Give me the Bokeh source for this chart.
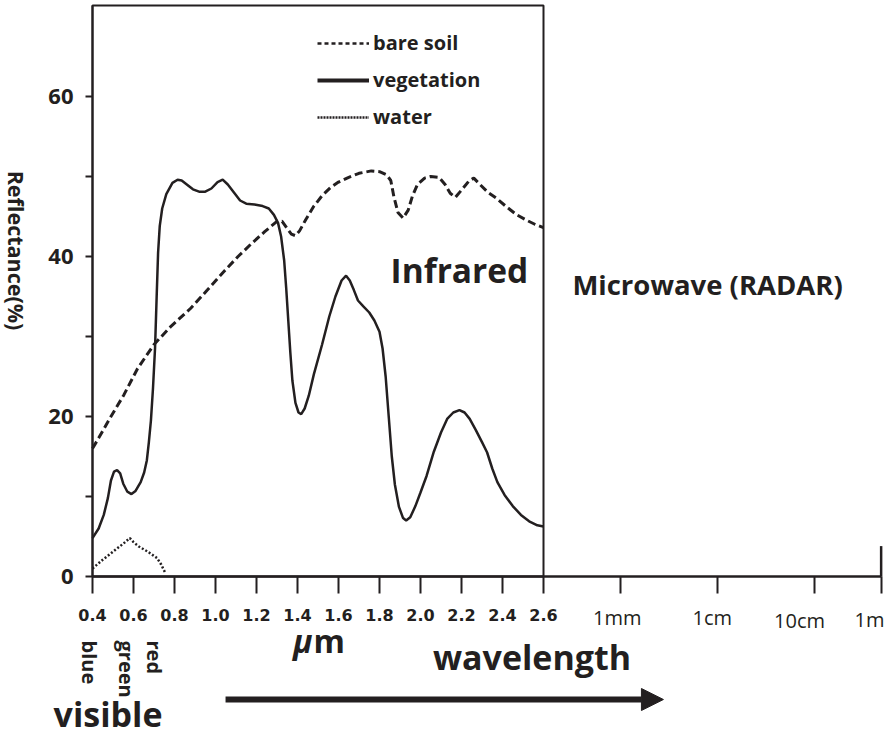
import math
from bokeh.plotting import figure
from bokeh.models import (FixedTicker, Range1d, Label, Arrow, NormalHead,
                          BoxAnnotation, Legend, LegendItem)
from bokeh.embed import file_html
from bokeh.resources import INLINE

# ---------------- data ----------------
veg_wl = [0.40, 0.43, 0.455, 0.475, 0.49, 0.505, 0.52, 0.535, 0.55, 0.57, 0.59, 0.61,
          0.635, 0.652, 0.665, 0.675, 0.685, 0.695, 0.705, 0.713, 0.72, 0.728, 0.74,
          0.76, 0.79, 0.815, 0.835, 0.86, 0.89, 0.92, 0.95, 0.98, 1.01, 1.035, 1.06,
          1.09, 1.12, 1.15, 1.19, 1.23, 1.26, 1.285, 1.305, 1.32, 1.335, 1.345, 1.355,
          1.365, 1.375, 1.39, 1.405, 1.418, 1.435, 1.455, 1.48, 1.52, 1.555, 1.585,
          1.615, 1.637, 1.655, 1.675, 1.695, 1.72, 1.75, 1.775, 1.80, 1.815, 1.83,
          1.845, 1.86, 1.875, 1.895, 1.915, 1.93, 1.95, 1.975, 2.0, 2.03, 2.065, 2.10,
          2.13, 2.16, 2.19, 2.215, 2.24, 2.27, 2.30, 2.325, 2.35, 2.375, 2.41, 2.45,
          2.49, 2.53, 2.57, 2.60]
veg_refl = [4.8, 6.0, 7.7, 9.8, 12.0, 13.1, 13.3, 12.9, 11.6, 10.6, 10.3, 10.7,
            11.8, 13.0, 14.5, 16.8, 19.5, 23.5, 28.5, 35.0, 40.5, 43.8, 46.0,
            47.8, 49.2, 49.6, 49.5, 49.0, 48.4, 48.1, 48.1, 48.5, 49.3, 49.6, 49.0,
            48.0, 47.0, 46.6, 46.5, 46.3, 46.0, 45.2, 44.2, 42.5, 39.5, 36.0, 32.0,
            28.0, 24.5, 21.7, 20.5, 20.3, 21.0, 22.6, 25.3, 29.0, 32.5, 35.0,
            37.0, 37.6, 37.0, 35.8, 34.5, 33.8, 33.0, 32.0, 30.6, 28.5, 25.0,
            20.0, 15.0, 11.5, 8.7, 7.3, 7.0, 7.4, 8.8, 10.5, 12.6, 15.6, 18.0,
            19.7, 20.5, 20.8, 20.5, 19.7, 18.3, 16.8, 15.5, 13.5, 11.8, 10.2, 8.8,
            7.7, 6.9, 6.4, 6.25]

soil_wl = [0.40, 0.43, 0.49, 0.553, 0.62, 0.70, 0.78, 0.878, 0.96, 1.04, 1.11, 1.171,
           1.24, 1.30, 1.325, 1.35, 1.37, 1.39, 1.41, 1.44, 1.48, 1.52, 1.56, 1.60,
           1.65, 1.70, 1.76, 1.80, 1.835, 1.855, 1.87, 1.89, 1.915, 1.94, 1.96, 1.985,
           2.02, 2.05, 2.09, 2.12, 2.145, 2.17, 2.20, 2.235, 2.26, 2.29, 2.33, 2.37,
           2.42, 2.47, 2.52, 2.56, 2.60]
soil_refl = [16.0, 17.3, 20.0, 22.7, 26.0, 29.0, 31.2, 33.5, 35.8, 38.1, 40.0, 41.5,
             43.1, 44.4, 44.4, 43.5, 42.8, 42.6, 43.2, 44.6, 46.3, 47.6, 48.6, 49.3,
             49.9, 50.4, 50.7, 50.6, 50.2, 49.5, 47.5, 45.5, 44.8, 45.8, 47.5, 49.0,
             49.8, 50.0, 49.9, 49.0, 47.9, 47.4, 48.3, 49.4, 49.8, 49.0, 48.0, 47.3,
             46.2, 45.2, 44.5, 44.0, 43.6]

water_wl = [0.40, 0.45, 0.50, 0.55, 0.582, 0.60, 0.626, 0.67, 0.715, 0.735, 0.756]
water_refl = [1.0, 2.1, 3.1, 4.1, 4.8, 4.3, 3.75, 3.1, 2.3, 1.5, 0.4]

series_names = ["bare soil", "vegetation", "water"]

x_ticks = [0.4, 0.6, 0.8, 1.0, 1.2, 1.4, 1.6, 1.8, 2.0, 2.2, 2.4, 2.6]
x_tick_labels = ["0.4", "0.6", "0.8", "1.0", "1.2", "1.4", "1.6", "1.8", "2.0",
                 "2.2", "2.4", "2.6"]
long_ticks = [2.976, 3.449, 3.922, 4.247]
long_tick_labels = ["1mm", "1cm", "10cm", "1m"]
y_ticks = [0, 10, 20, 30, 40, 50, 60]
y_tick_labels = ["0", "", "20", "", "40", "", "60"]
y_top = 71.375

INK = "#231f20"
FONT = "Open Sans"

# the frame fills the whole canvas; the axes are pinned at x=0.4 and y=0
p = figure(width=889, height=736,
           x_range=Range1d(-0.04878, 4.28780), y_range=Range1d(-20, 72),
           output_backend="svg", toolbar_location=None,
           min_border=0)
p.xgrid.visible = False
p.ygrid.visible = False
p.outline_line_color = None
p.background_fill_color = "white"
p.border_fill_color = "white"

# ---------------- axes ----------------
xa = p.xaxis[0]
xa.fixed_location = 0
xa.ticker = FixedTicker(ticks=x_ticks + long_ticks)
ov = {t: l for t, l in zip(x_ticks, x_tick_labels)}
ov.update({t: "" for t in long_ticks})
xa.major_label_overrides = ov
xa.bounds = (x_ticks[0], long_ticks[-1])
xa.minor_tick_line_color = None
xa.major_tick_out = 17
xa.major_tick_in = 0
xa.axis_line_width = 2.5
xa.axis_line_color = INK
xa.major_tick_line_width = 2
xa.major_tick_line_color = INK
xa.major_label_text_font = "DejaVu Sans"
xa.major_label_text_font_style = "bold"
xa.major_label_text_font_size = "16px"
xa.major_label_text_color = INK
xa.major_label_standoff = 15

ya = p.yaxis[0]
ya.fixed_location = x_ticks[0]
ya.ticker = FixedTicker(ticks=y_ticks)
ya.major_label_overrides = {t: l for t, l in zip(y_ticks, y_tick_labels)}
ya.bounds = (0, y_top)
ya.minor_tick_line_color = None
ya.major_tick_out = 7
ya.major_tick_in = 0
ya.axis_line_width = 2
ya.axis_line_color = INK
ya.major_tick_line_width = 2
ya.major_tick_line_color = INK
ya.major_label_text_font = FONT
ya.major_label_text_font_style = "bold"
ya.major_label_text_font_size = "22px"
ya.major_label_text_color = INK
ya.major_label_standoff = 12

# frame of the optical part
p.add_layout(BoxAnnotation(left=x_ticks[0], right=x_ticks[-1], bottom=0, top=y_top,
                           fill_alpha=0, line_color=INK, line_alpha=1.0,
                           line_width=2))
# end mark at 1 m
p.segment(x0=[long_ticks[-1]], y0=[0], x1=[long_ticks[-1]], y1=[3.8],
          line_color=INK, line_width=2.5)

# ---------------- curves ----------------
p.line(soil_wl, soil_refl, line_color=INK, line_width=3, line_dash="8 4")
p.line(veg_wl, veg_refl, line_color=INK, line_width=2.5)
p.line(water_wl, water_refl, line_color=INK, line_width=2.5, line_dash="2 2")

# legend samples (styled like the reference legend, nothing drawn in the plot)
nan = float("nan")
leg_soil = p.line(x=[nan, nan], y=[nan, nan], line_color=INK, line_width=2.5,
                  line_dash="4 3")
leg_veg = p.line(x=[nan, nan], y=[nan, nan], line_color=INK, line_width=4)
leg_water = p.line(x=[nan, nan], y=[nan, nan], line_color=INK, line_width=2.5,
                   line_dash="2 1")
legend = Legend(items=[LegendItem(label=series_names[0], renderers=[leg_soil]),
                       LegendItem(label=series_names[1], renderers=[leg_veg]),
                       LegendItem(label=series_names[2], renderers=[leg_water])],
                location=(317, 606), orientation="vertical",
                glyph_width=52, glyph_height=20, label_height=20,
                label_standoff=4, spacing=10, padding=0, margin=0,
                border_line_color=None, background_fill_alpha=0,
                label_text_font=FONT, label_text_font_style="bold",
                label_text_font_size="20px", label_text_color=INK)
p.add_layout(legend)

# ---------------- texts ----------------
def lab(x, y, text, size, style="bold", align="left", baseline="alphabetic", angle=0.0):
    p.add_layout(Label(x=x, y=y, text=text, text_font=FONT, text_font_size=size,
                       text_font_style=style, text_color=INK, text_align=align,
                       text_baseline=baseline, angle=angle))

lab(0.029, 40.75, "Reflectance(%)", "21.5px", align="center", baseline="middle",
    angle=-math.pi / 2)
lab(1.854, 38.3, "Infrared", "33.5px")
lab(2.741, 36.54, "Microwave (RADAR)", "27.5px")
lab(0.385, -8.0, "blue", "20px", baseline="middle", angle=-math.pi / 2)
lab(0.568, -8.0, "green", "20px", baseline="middle", angle=-math.pi / 2)
lab(0.702, -8.0, "red", "20px", baseline="middle", angle=-math.pi / 2)
lab(1.473, -8.0, "μ", "32px", style="bold italic", align="right")
lab(1.478, -8.0, "m", "32px")
lab(2.544, -10.01, "wavelength", "34px", align="center")
lab(0.476, -17.15, "visible", "34px", align="center")

long_label_x = [2.96, 3.423, 3.849, 4.19]
long_label_y = [-5.1, -5.1, -5.475, -5.35]
for lx, ly, t in zip(long_label_x, long_label_y, long_tick_labels):
    lab(lx, ly, t, "20px", style="normal", align="center")

p.add_layout(Arrow(end=NormalHead(size=22, fill_color=INK, line_color=INK),
                   x_start=1.049, y_start=-15.375, x_end=3.185, y_end=-15.375,
                   line_width=6, line_color=INK))

open("out.html", "w").write(file_html(p, INLINE))
